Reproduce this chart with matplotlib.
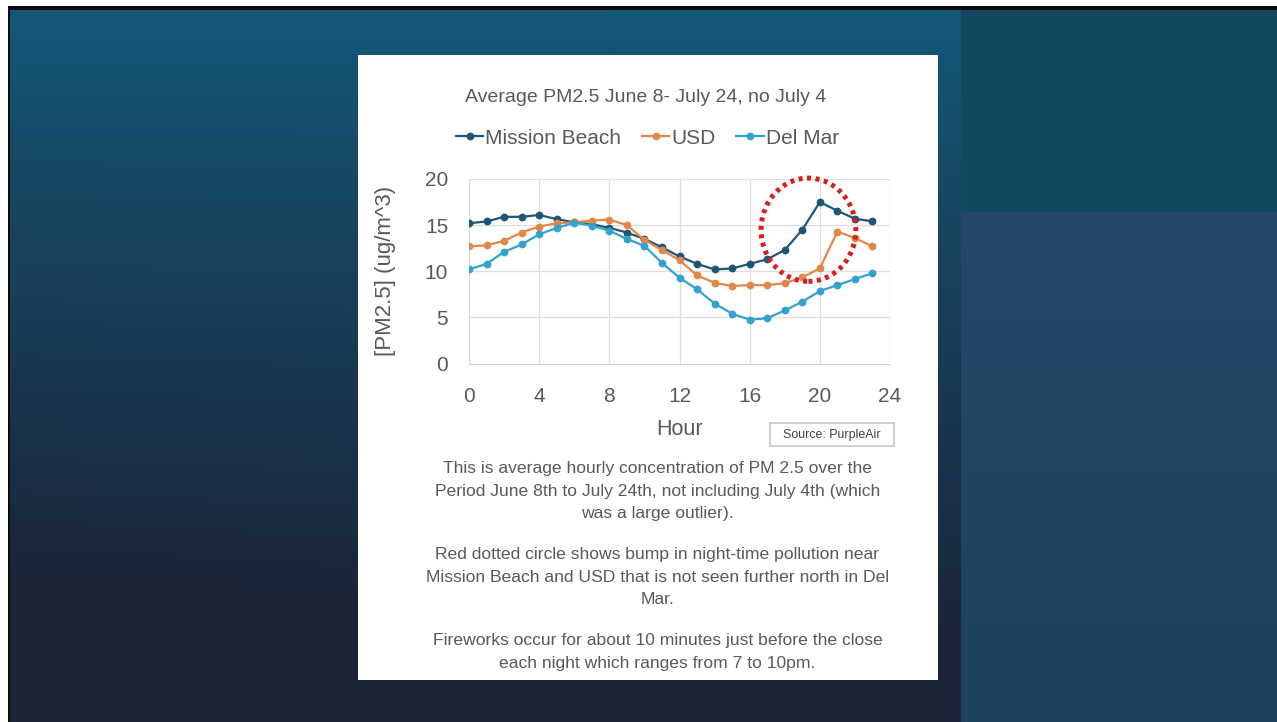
import numpy as np
import matplotlib.pyplot as plt
from matplotlib.patches import Rectangle, Ellipse

# 数据：每小时平均 PM2.5
hours = np.arange(0, 24)
mission_beach = [15.2, 15.4, 15.9, 15.9, 16.1, 15.65, 15.3, 15.1, 14.7, 14.2, 13.5, 12.6,
                 11.6, 10.8, 10.2, 10.3, 10.8, 11.3, 12.3, 14.5, 17.5, 16.55, 15.7, 15.4]
usd = [12.7, 12.8, 13.3, 14.2, 14.85, 15.2, 15.3, 15.5, 15.6, 15.0, 13.4, 12.3,
       11.2, 9.55, 8.75, 8.4, 8.5, 8.5, 8.7, 9.35, 10.3, 14.3, 13.6, 12.7]
del_mar = [10.2, 10.8, 12.1, 12.9, 14.0, 14.7, 15.25, 14.95, 14.4, 13.5, 12.75, 10.9,
           9.3, 8.05, 6.5, 5.4, 4.75, 4.9, 5.75, 6.7, 7.85, 8.5, 9.15, 9.8]
series_names = ['Mission Beach', 'USD', 'Del Mar']
series_colors = ['#1e5776', '#e2874a', '#34a3cc']
x_ticks = [0, 4, 8, 12, 16, 20, 24]
y_ticks = [0, 5, 10, 15, 20]

plt.rcParams['font.family'] = ['Liberation Sans', 'DejaVu Sans']
grey = '#595959'

fig = plt.figure(figsize=(12.77, 7.22), dpi=100)

# 背景（幻灯片）
bg = fig.add_axes([0, 0, 1, 1])
W, H = 1277, 722
img = np.ones((H, W, 3))
yy = np.linspace(0, 1, H)[:, None]
xx = np.linspace(0, 1, W)[None, :]
top = np.array([0x15, 0x58, 0x7a]) / 255
bot = np.array([0x1b, 0x25, 0x38]) / 255
t = np.clip(yy * 1.1 + 0.15 * (1 - xx) * yy, 0, 1)[..., None]
img[:] = top * (1 - t) + bot * t
right = xx[0] > 961 / W
rtop = np.array([0x12, 0x48, 0x60]) / 255
rb1 = np.array([0x23, 0x48, 0x6a]) / 255
rb2 = np.array([0x1e, 0x43, 0x60]) / 255
for r in range(H):
    if r < 212:
        img[r, right] = rtop
    else:
        s = (r - 212) / (H - 212)
        img[r, right] = rb1 * (1 - s) + rb2 * s
img[:10, :] = 0.05
img[:, :10] = 0.05
img[:6, :] = 1.0
img[:, :8] = 1.0
bg.imshow(img, aspect='auto', extent=(0, 1, 0, 1))
bg.axis('off')

# 白色面板
fig.patches.append(Rectangle((358 / W, 1 - 680 / H), 580 / W, 625 / H,
                             transform=fig.transFigure, facecolor='white',
                             edgecolor='none', zorder=1))

ax = fig.add_axes([469 / W, 1 - 363.5 / H, 421 / W, 184.5 / H])
ax.set_zorder(2)
ax.patch.set_facecolor('white')
for name, vals, c in zip(series_names, [mission_beach, usd, del_mar], series_colors):
    ax.plot(hours, vals, color=c, linewidth=1.6, marker='o', markersize=4.6, label=name)

ax.set_xlim(0, 24)
ax.set_ylim(0, 20)
ax.set_xticks(x_ticks)
ax.set_yticks(y_ticks)
ax.grid(True, color='#dedede', linewidth=0.9)
ax.set_axisbelow(True)
for s in ax.spines.values():
    s.set_visible(False)
ax.spines['bottom'].set_visible(True)
ax.spines['bottom'].set_color('#d0d0d0')
ax.tick_params(length=0, labelsize=15, labelcolor=grey)
ax.tick_params(axis='x', pad=17)
ax.tick_params(axis='y', pad=15)
ax.set_xlabel('Hour', fontsize=15.5, color=grey, labelpad=9)
ax.set_ylabel('[PM2.5] (ug/m^3)', fontsize=16, color=grey, labelpad=21)

# 红色虚线圈
ax.add_patch(Ellipse((19.35, 14.5), 5.4, 11.2, fill=False, edgecolor='#d42020',
                     linewidth=3.6, linestyle=(0, (0.8, 0.9)), clip_on=False, zorder=5))

fig.text(645.5 / W, 1 - 98 / H, 'Average PM2.5 June 8- July 24, no July 4', ha='center', va='center',
         fontsize=14, color=grey, zorder=3)
fig.legend(loc='center', bbox_to_anchor=(647.5 / W, 1 - 138 / H), ncol=3, frameon=False,
           prop={'size': 15}, labelcolor=grey, handlelength=1.3,
           handletextpad=0.1, columnspacing=1.0)

# Source 框
fig.patches.append(Rectangle((770 / W, 1 - 446 / H), 124 / W, 23 / H, transform=fig.transFigure,
                             facecolor='white', edgecolor='#c8c8c8', linewidth=1.2, zorder=3))
fig.text(832 / W, 1 - 435 / H, 'Source: PurpleAir', ha='center', va='center', fontsize=8.9,
         color='#404040', zorder=4)

paras = [
    'This is average hourly concentration of PM 2.5 over the\n'
    'Period June 8th to July 24th, not including July 4th (which\n'
    'was a large outlier).',
    'Red dotted circle shows bump in night-time pollution near\n'
    'Mission Beach and USD that is not seen further north in Del\n'
    'Mar.',
    'Fireworks occur for about 10 minutes just before the close\n'
    'each night which ranges from 7 to 10pm.',
]
for p, y in zip(paras, [467, 553, 639]):
    fig.text(657.5 / W, 1 - (y - 6) / H, p, ha='center', va='top', fontsize=12.6,
             color=grey, linespacing=1.63, zorder=3)

fig.savefig('out.png', dpi=100)
